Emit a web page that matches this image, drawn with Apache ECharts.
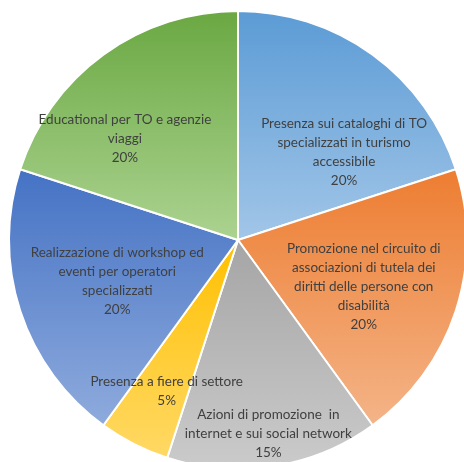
<!DOCTYPE html>
<html>
<head>
<meta charset="utf-8">
<script src="https://cdn.jsdelivr.net/npm/echarts@6/dist/echarts.min.js"></script>
<style>
  html, body { margin: 0; padding: 0; background: #fff; }
  #chart { width: 464px; height: 462px; }
</style>
</head>
<body>
<div id="chart"></div>
<script>
(function () {
    var myChart = echarts.init(document.getElementById('chart'));

    // categories (clockwise from the top) and their shares in %
    let categories = [
        'Presenza sui cataloghi di TO\nspecializzati in turismo\naccessibile',
        'Promozione nel circuito di\nassociazioni di tutela dei\ndiritti delle persone con\ndisabilità',
        'Azioni di promozione  in\ninternet e sui social network',
        'Presenza a fiere di settore',
        'Realizzazione di workshop ed\neventi per operatori\nspecializzati',
        'Educational per TO e agenzie\nviaggi'
    ];
    let values = [20, 20, 15, 5, 20, 20];

    // gradient colors, top -> bottom of each slice
    let colorsTop = ['#5b9bd5', '#ed7d31', '#a5a5a5', '#ffc000', '#4472c4', '#6aa842'];
    let colorsBottom = ['#a2c6e8', '#f4b488', '#cbcbcb', '#ffd966', '#8fabdd', '#acd391'];
    // label nudges from the default inside position
    let labelShift = [[37, 7], [14, 10], [12, 78], [-18, 46], [-9, 5], [-44, -6]];

    let data = [];
    for (let i = 0; i < values.length; i++) {
        data.push({
            name: categories[i],
            value: values[i],
            itemStyle: {
                color: new echarts.graphic.LinearGradient(0, 0, 0, 1, [
                    { offset: 0, color: colorsTop[i] },
                    { offset: 1, color: colorsBottom[i] }
                ])
            }
        });
    }

    var option = {
        animation: false,
        series: [
            {
                type: 'pie',
                center: [238, 240],
                radius: 229,
                startAngle: 90,
                clockwise: true,
                avoidLabelOverlap: false,
                itemStyle: {
                    borderColor: '#fff',
                    borderWidth: 2
                },
                label: {
                    show: true,
                    position: 'inside',
                    formatter: '{b}\n{c}%',
                    color: '#404040',
                    fontFamily: 'Lato',
                    fontSize: 13.5,
                    lineHeight: 19,
                    align: 'center'
                },
                labelLine: { show: false },
                labelLayout: function (params) {
                    let s = labelShift[params.dataIndex];
                    return { dx: s[0], dy: s[1] };
                },
                data: data
            }
        ]
    };

    myChart.setOption(option);
    window.addEventListener('resize', function () {
        myChart.resize();
    });
})();
</script>
</body>
</html>
